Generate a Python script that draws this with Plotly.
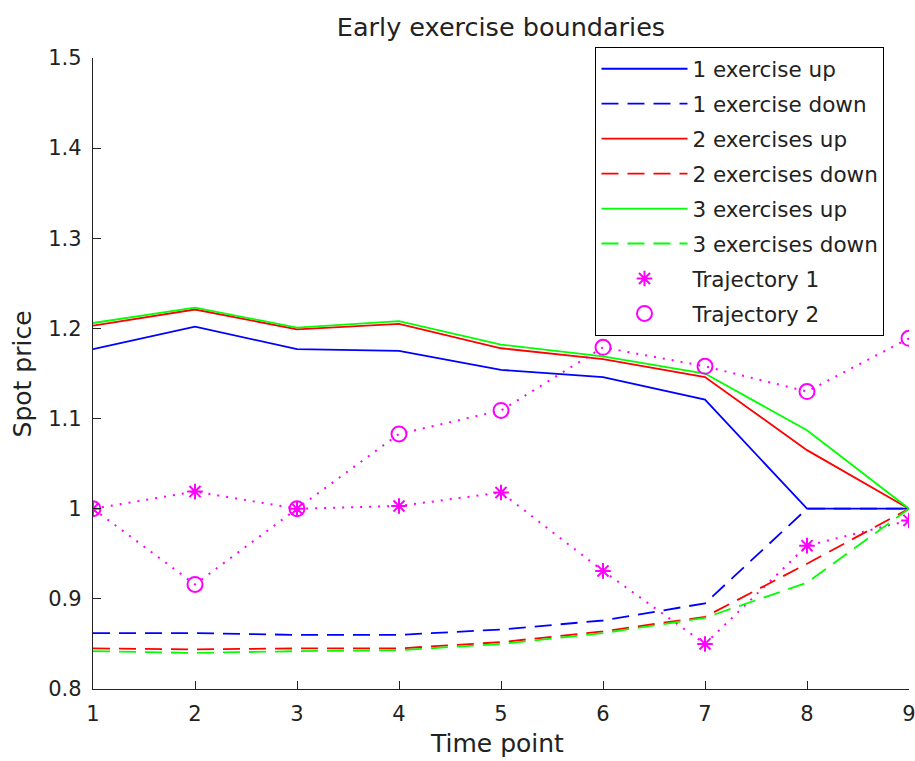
import plotly.graph_objects as go

t = [1, 2, 3, 4, 5, 6, 7, 8, 9]

up1 = [1.177, 1.202, 1.177, 1.175, 1.154, 1.146, 1.121, 1.000, 1.000]
down1 = [0.862, 0.862, 0.860, 0.860, 0.866, 0.876, 0.895, 1.000, 1.000]
up2 = [1.203, 1.221, 1.199, 1.205, 1.178, 1.166, 1.146, 1.065, 1.000]
down2 = [0.845, 0.844, 0.845, 0.845, 0.852, 0.864, 0.880, 0.939, 1.000]
up3 = [1.206, 1.223, 1.201, 1.208, 1.182, 1.169, 1.150, 1.087, 1.000]
down3 = [0.842, 0.840, 0.842, 0.843, 0.850, 0.862, 0.879, 0.918, 1.000]
traj1 = [1.000, 1.019, 1.000, 1.003, 1.018, 0.931, 0.850, 0.959, 0.987]
traj2 = [1.000, 0.916, 1.000, 1.083, 1.109, 1.179, 1.158, 1.130, 1.189]

names = ["1 exercise up", "1 exercise down", "2 exercises up", "2 exercises down",
         "3 exercises up", "3 exercises down", "Trajectory 1", "Trajectory 2"]

FONT = "DejaVu Sans"
BLUE, RED, GREEN, MAG = "#0000FF", "#FF0000", "#00FF00", "#FF00FF"
DASH = "17px,9px"
LW = 1.8

fig = go.Figure()

# trajectory dotted connecting lines (no legend)
for y in (traj1, traj2):
    fig.add_trace(go.Scatter(x=t, y=y, mode="lines", showlegend=False, hoverinfo="skip",
                             line=dict(color=MAG, width=2, dash="2px,7px")))

series = [
    (up1, BLUE, "solid"), (down1, BLUE, DASH),
    (up2, RED, "solid"), (down2, RED, DASH),
    (up3, GREEN, "solid"), (down3, GREEN, DASH),
]
for i, (y, c, d) in enumerate(series):
    fig.add_trace(go.Scatter(x=t, y=y, mode="lines", name=names[i], legendgroup=f"g{i}",
                             line=dict(color=c, width=LW, dash=d)))

fig.add_trace(go.Scatter(x=t, y=traj1, mode="markers", name=names[6], legendgroup="g6",
                         marker=dict(symbol="asterisk-open", size=13, color=MAG,
                                     line=dict(color=MAG, width=2))))
fig.add_trace(go.Scatter(x=t, y=traj2, mode="markers", name=names[7], legendgroup="g7",
                         marker=dict(symbol="circle-open", size=15, color=MAG,
                                     line=dict(color=MAG, width=2))))

L, R, T, B = 93, 6.3, 58, 72.3
W, H = 915, 761
pw = W - L - R
ph = H - T - B

fig.update_layout(
    width=W, height=H,
    margin=dict(l=L, r=R, t=T, b=B, autoexpand=False),
    paper_bgcolor="white", plot_bgcolor="white",
    font=dict(family=FONT, color="#222222"),
    title=dict(text="Early exercise boundaries", font=dict(size=25.5, color="#222222"),
               x=0.5, xref="paper", xanchor="center",
               y=1 - 27 / H, yref="container", yanchor="middle"),
    showlegend=True,
    legend=dict(x=(595 - L) / pw, y=1 + (T - 47) / ph, xanchor="left", yanchor="top",
                bgcolor="white", bordercolor="black", borderwidth=1.3,
                font=dict(size=21.5, family=FONT, color="#222222"),
                tracegroupgap=4, itemwidth=86, traceorder="grouped"),
)

fig.update_xaxes(range=[1, 9], tickvals=t, ticks="inside", ticklen=8, tickwidth=1.3,
                 tickcolor="#222222", showline=True, linecolor="#222222", linewidth=1.3,
                 showgrid=False, zeroline=False, mirror=False, ticklabeloverflow="allow",
                 automargin=False,
                 tickfont=dict(size=21, family=FONT, color="#222222"), ticklabelstandoff=6)
fig.update_yaxes(range=[0.8, 1.5], tickvals=[0.8, 0.9, 1.0, 1.1, 1.2, 1.3, 1.4, 1.5],
                 ticktext=["0.8", "0.9", "1", "1.1", "1.2", "1.3", "1.4", "1.5"],
                 ticks="inside", ticklen=8, tickwidth=1.3, automargin=False,
                 tickcolor="#222222", showline=True, linecolor="#222222", linewidth=1.3,
                 showgrid=False, zeroline=False, mirror=False, ticklabeloverflow="allow",
                 tickfont=dict(size=21, family=FONT, color="#222222"), ticklabelstandoff=6)

fig.add_annotation(text="Time point", xref="paper", yref="paper", x=(497 - L) / pw,
                   y=-(743 - (H - B)) / ph, xanchor="center", yanchor="middle",
                   showarrow=False, font=dict(size=25, family=FONT, color="#222222"))
fig.add_annotation(text="Spot price", xref="paper", yref="paper", x=-(L - 23) / pw,
                   y=0.5, xanchor="center", yanchor="middle", textangle=-90,
                   showarrow=False, font=dict(size=25, family=FONT, color="#222222"))

fig.write_html("out.html")
